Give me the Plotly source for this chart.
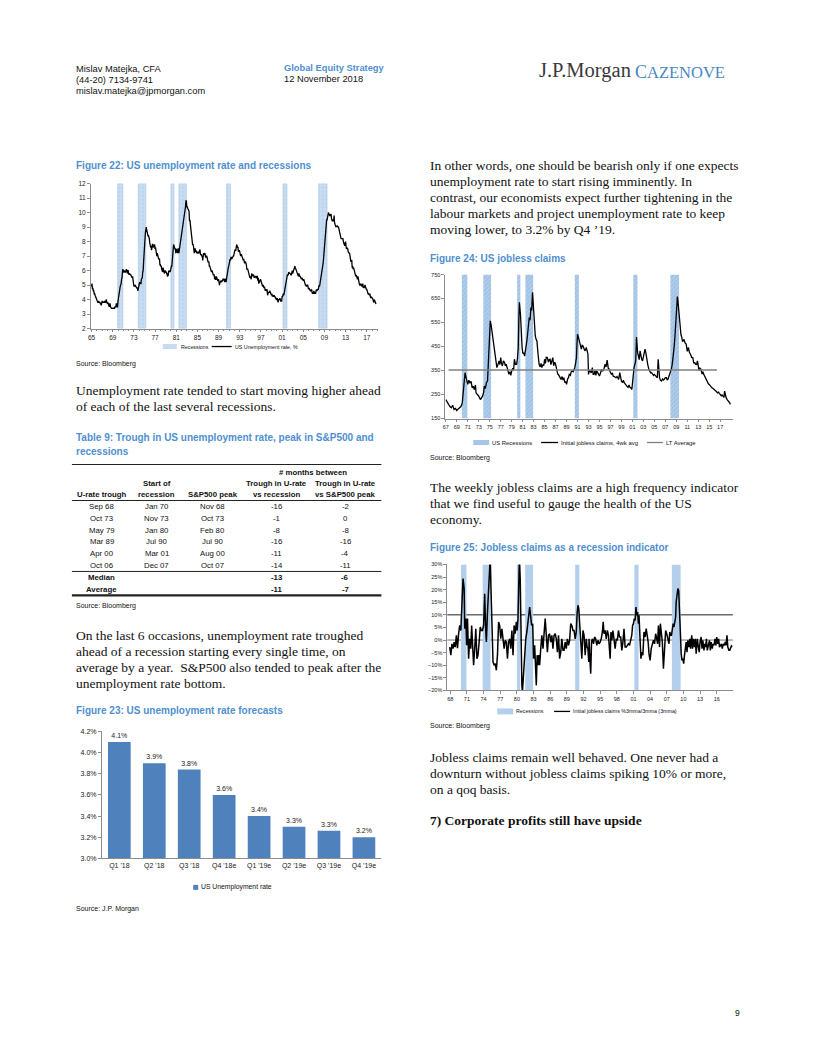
import numpy as np
import plotly.graph_objects as go

W, H = 816, 1056
OFF = 8  # page body margin of the browser
SANS = "Liberation Sans, Arial, sans-serif"
SERIF = "Liberation Serif, Times New Roman, serif"
TBLUE = "#4f8fcf"

# ---------------- Figure 22: US unemployment rate (monthly, from Jan 1965)
UNRATE_START = 1965
UNRATE = [
    4.9, 5.1, 4.7, 4.8, 4.6, 4.6, 4.4, 4.4, 4.3, 4.2, 4.1, 4.0,
    4.0, 3.8, 3.8, 3.8, 3.9, 3.8, 3.8, 3.8, 3.7, 3.7, 3.6, 3.8,
    3.9, 3.8, 3.8, 3.8, 3.8, 3.9, 3.8, 3.8, 3.8, 4.0, 3.9, 3.8,
    3.7, 3.8, 3.7, 3.5, 3.5, 3.7, 3.7, 3.5, 3.4, 3.4, 3.4, 3.4,
    3.4, 3.4, 3.4, 3.4, 3.4, 3.5, 3.5, 3.5, 3.7, 3.7, 3.5, 3.5,
    3.9, 4.2, 4.4, 4.6, 4.8, 4.9, 5.0, 5.1, 5.4, 5.5, 5.9, 6.1,
    5.9, 5.9, 6.0, 5.9, 5.9, 5.9, 6.0, 6.1, 6.0, 5.8, 6.0, 6.0,
    5.8, 5.7, 5.8, 5.7, 5.7, 5.7, 5.6, 5.6, 5.5, 5.6, 5.3, 5.2,
    4.9, 5.0, 4.9, 5.0, 4.9, 4.9, 4.8, 4.8, 4.8, 4.6, 4.8, 4.9,
    5.1, 5.2, 5.1, 5.1, 5.1, 5.4, 5.5, 5.5, 5.9, 6.0, 6.6, 7.2,
    8.1, 8.1, 8.6, 8.8, 9.0, 8.8, 8.6, 8.4, 8.4, 8.4, 8.3, 8.2,
    7.9, 7.7, 7.6, 7.7, 7.4, 7.6, 7.8, 7.8, 7.6, 7.7, 7.8, 7.8,
    7.5, 7.6, 7.4, 7.2, 7.0, 7.2, 6.9, 7.0, 6.8, 6.8, 6.8, 6.4,
    6.4, 6.3, 6.3, 6.1, 6.0, 5.9, 6.2, 5.9, 6.0, 5.8, 5.9, 6.0,
    5.9, 5.9, 5.8, 5.8, 5.6, 5.7, 5.7, 6.0, 5.9, 6.0, 5.9, 6.0,
    6.3, 6.3, 6.3, 6.9, 7.5, 7.6, 7.8, 7.7, 7.5, 7.5, 7.5, 7.2,
    7.5, 7.4, 7.4, 7.2, 7.5, 7.5, 7.2, 7.4, 7.6, 7.9, 8.3, 8.5,
    8.6, 8.9, 9.0, 9.3, 9.4, 9.6, 9.8, 9.8, 10.1, 10.4, 10.8, 10.8,
    10.4, 10.4, 10.3, 10.2, 10.1, 10.1, 9.4, 9.5, 9.2, 8.8, 8.5, 8.3,
    8.0, 7.8, 7.8, 7.7, 7.4, 7.2, 7.5, 7.5, 7.3, 7.4, 7.2, 7.3,
    7.3, 7.2, 7.2, 7.3, 7.2, 7.4, 7.4, 7.1, 7.1, 7.1, 7.0, 7.0,
    6.7, 7.2, 7.2, 7.1, 7.2, 7.2, 7.0, 6.9, 7.0, 7.0, 6.9, 6.6,
    6.6, 6.6, 6.6, 6.3, 6.3, 6.2, 6.1, 6.0, 5.9, 6.0, 5.8, 5.7,
    5.7, 5.7, 5.7, 5.4, 5.6, 5.4, 5.4, 5.6, 5.4, 5.4, 5.3, 5.3,
    5.4, 5.2, 5.0, 5.2, 5.2, 5.3, 5.2, 5.2, 5.3, 5.3, 5.4, 5.4,
    5.4, 5.3, 5.2, 5.4, 5.4, 5.2, 5.5, 5.7, 5.9, 5.9, 6.2, 6.3,
    6.4, 6.6, 6.8, 6.7, 6.9, 6.9, 6.8, 6.9, 6.9, 7.0, 7.0, 7.3,
    7.3, 7.4, 7.4, 7.4, 7.6, 7.8, 7.7, 7.6, 7.6, 7.3, 7.4, 7.4,
    7.3, 7.1, 7.0, 7.1, 7.1, 7.0, 6.9, 6.8, 6.7, 6.8, 6.6, 6.5,
    6.6, 6.6, 6.5, 6.4, 6.1, 6.1, 6.1, 6.0, 5.9, 5.8, 5.6, 5.5,
    5.6, 5.4, 5.4, 5.8, 5.6, 5.6, 5.7, 5.7, 5.6, 5.5, 5.6, 5.6,
    5.6, 5.5, 5.5, 5.6, 5.6, 5.3, 5.5, 5.1, 5.2, 5.2, 5.4, 5.4,
    5.3, 5.2, 5.2, 5.1, 4.9, 5.0, 4.9, 4.8, 4.9, 4.7, 4.6, 4.7,
    4.6, 4.6, 4.7, 4.3, 4.4, 4.5, 4.5, 4.5, 4.6, 4.5, 4.4, 4.4,
    4.3, 4.4, 4.2, 4.3, 4.2, 4.3, 4.3, 4.2, 4.2, 4.1, 4.1, 4.0,
    4.0, 4.1, 4.0, 3.8, 4.0, 4.0, 4.0, 4.1, 3.9, 3.9, 3.9, 3.9,
    4.2, 4.2, 4.3, 4.4, 4.3, 4.5, 4.6, 4.9, 5.0, 5.3, 5.5, 5.7,
    5.7, 5.7, 5.7, 5.9, 5.8, 5.8, 5.8, 5.7, 5.7, 5.7, 5.9, 6.0,
    5.8, 5.9, 5.9, 6.0, 6.1, 6.3, 6.2, 6.1, 6.1, 6.0, 5.8, 5.7,
    5.7, 5.6, 5.8, 5.6, 5.6, 5.6, 5.5, 5.4, 5.4, 5.5, 5.4, 5.4,
    5.3, 5.4, 5.2, 5.2, 5.1, 5.0, 5.0, 4.9, 5.0, 5.0, 5.0, 4.9,
    4.7, 4.8, 4.7, 4.7, 4.6, 4.6, 4.7, 4.7, 4.5, 4.4, 4.5, 4.4,
    4.6, 4.5, 4.4, 4.5, 4.4, 4.6, 4.7, 4.6, 4.7, 4.7, 4.7, 5.0,
    5.0, 4.9, 5.1, 5.0, 5.4, 5.6, 5.8, 6.1, 6.1, 6.5, 6.8, 7.3,
    7.8, 8.3, 8.7, 9.0, 9.4, 9.5, 9.5, 9.6, 9.8, 10.0, 9.9, 9.9,
    9.8, 9.8, 9.9, 9.9, 9.6, 9.4, 9.4, 9.5, 9.5, 9.4, 9.8, 9.3,
    9.1, 9.0, 9.0, 9.1, 9.0, 9.1, 9.0, 9.0, 9.0, 8.8, 8.6, 8.5,
    8.3, 8.3, 8.2, 8.2, 8.2, 8.2, 8.2, 8.0, 7.8, 7.8, 7.7, 7.9,
    8.0, 7.7, 7.5, 7.6, 7.5, 7.5, 7.3, 7.2, 7.2, 7.2, 6.9, 6.7,
    6.6, 6.7, 6.7, 6.2, 6.3, 6.1, 6.2, 6.1, 5.9, 5.7, 5.8, 5.6,
    5.7, 5.5, 5.4, 5.4, 5.6, 5.3, 5.2, 5.1, 5.0, 5.0, 5.1, 5.0,
    4.9, 4.9, 5.0, 5.1, 4.8, 4.9, 4.8, 4.9, 5.0, 4.9, 4.7, 4.7,
    4.7, 4.6, 4.4, 4.4, 4.4, 4.3, 4.3, 4.4, 4.2, 4.1, 4.2, 4.1,
    4.1, 4.1, 4.0, 4.0, 3.8, 4.0, 3.9, 3.9, 3.7, 3.7,
]
F22_XTICKS = [1965, 1969, 1973, 1977, 1981, 1985, 1989, 1993, 1997, 2001, 2005, 2009, 2013, 2017]
F22_XLABELS = ["65", "69", "73", "77", "81", "85", "89", "93", "97", "01", "05", "09", "13", "17"]

# NBER recessions (decimal years)
REC_START = [1969.92, 1973.83, 1980.0, 1981.5, 1990.5, 2001.17, 2007.92]
REC_END = [1970.92, 1975.25, 1980.58, 1982.92, 1991.25, 2001.92, 2009.5]

# ---------------- Figure 23: forecasts
F23_CATS = ["Q1 '18", "Q2 '18", "Q3 '18", "Q4 '18e", "Q1 '19e", "Q2 '19e", "Q3 '19e", "Q4 '19e"]
F23_VALS = [4.1, 3.9, 3.84, 3.6, 3.4, 3.3, 3.26, 3.2]

# ---------------- Figure 24: initial jobless claims, 4wk avg ('000)
CLAIMS_T = [
    1967.0, 1967.25, 1967.5, 1967.75, 1968.0, 1968.25, 1968.5, 1968.75, 1969.0, 1969.25, 1969.5, 1969.75,
    1970.0, 1970.15, 1970.3, 1970.5, 1970.65, 1970.8, 1971.0, 1971.2, 1971.4, 1971.6, 1971.8, 1972.0,
    1972.2, 1972.4, 1972.5, 1972.75, 1973.0, 1973.3, 1973.5, 1973.7, 1973.9, 1974.0, 1974.2, 1974.4,
    1974.6, 1974.8, 1974.95, 1975.1, 1975.25, 1975.5, 1975.7, 1975.85, 1976.0, 1976.15, 1976.3, 1976.5,
    1976.7, 1976.85, 1977.0, 1977.15, 1977.3, 1977.5, 1977.7, 1977.85, 1978.0, 1978.2, 1978.4, 1978.5,
    1978.7, 1978.85, 1979.0, 1979.2, 1979.35, 1979.5, 1979.7, 1979.9, 1980.05, 1980.2, 1980.3, 1980.4,
    1980.5, 1980.6, 1980.75, 1980.9, 1981.05, 1981.2, 1981.35, 1981.5, 1981.6, 1981.75, 1981.9, 1982.05,
    1982.2, 1982.35, 1982.5, 1982.65, 1982.8, 1982.9, 1983.0, 1983.15, 1983.3, 1983.45, 1983.6, 1983.8,
    1984.0, 1984.2, 1984.35, 1984.5, 1984.7, 1984.85, 1985.0, 1985.15, 1985.3, 1985.5, 1985.7, 1985.85,
    1986.0, 1986.15, 1986.3, 1986.5, 1986.65, 1986.85, 1987.0, 1987.2, 1987.4, 1987.5, 1987.7, 1987.85,
    1988.0, 1988.2, 1988.35, 1988.5, 1988.7, 1988.85, 1989.0, 1989.2, 1989.35, 1989.5, 1989.7, 1989.85,
    1990.0, 1990.2, 1990.4, 1990.5, 1990.65, 1990.8, 1990.9, 1991.0, 1991.15, 1991.3, 1991.5, 1991.7,
    1991.85, 1992.0, 1992.2, 1992.4, 1992.6, 1992.75, 1992.9, 1993.0, 1993.15, 1993.3, 1993.5, 1993.7,
    1993.85, 1994.0, 1994.2, 1994.35, 1994.5, 1994.7, 1994.85, 1995.0, 1995.2, 1995.35, 1995.5, 1995.7,
    1995.85, 1996.0, 1996.2, 1996.4, 1996.6, 1996.8, 1997.0, 1997.2, 1997.35, 1997.5, 1997.7, 1997.85,
    1998.0, 1998.2, 1998.4, 1998.5, 1998.7, 1998.85, 1999.0, 1999.2, 1999.35, 1999.5, 1999.7, 1999.85,
    2000.0, 2000.2, 2000.4, 2000.5, 2000.7, 2000.9, 2001.0, 2001.15, 2001.3, 2001.45, 2001.6, 2001.75,
    2001.85, 2001.95, 2002.1, 2002.25, 2002.4, 2002.55, 2002.7, 2002.85, 2003.0, 2003.15, 2003.3, 2003.45,
    2003.6, 2003.8, 2004.0, 2004.2, 2004.35, 2004.5, 2004.7, 2004.85, 2005.0, 2005.2, 2005.4, 2005.55,
    2005.7, 2005.8, 2005.95, 2006.1, 2006.3, 2006.5, 2006.65, 2006.8, 2007.0, 2007.2, 2007.35, 2007.5,
    2007.7, 2007.85, 2008.0, 2008.15, 2008.3, 2008.45, 2008.6, 2008.75, 2008.9, 2009.05, 2009.2, 2009.3,
    2009.4, 2009.55, 2009.7, 2009.85, 2010.0, 2010.15, 2010.3, 2010.4, 2010.6, 2010.8, 2011.0, 2011.2,
    2011.4, 2011.6, 2011.8, 2012.0, 2012.2, 2012.35, 2012.5, 2012.7, 2012.85, 2013.0, 2013.15, 2013.3,
    2013.5, 2013.7, 2013.85, 2014.0, 2014.2, 2014.35, 2014.5, 2014.7, 2014.85, 2015.0, 2015.2, 2015.35,
    2015.5, 2015.7, 2015.85, 2016.0, 2016.2, 2016.35, 2016.5, 2016.7, 2016.85, 2017.0, 2017.2, 2017.35,
    2017.5, 2017.7, 2017.8, 2017.95, 2018.1, 2018.3, 2018.45, 2018.6, 2018.75, 2018.85,
]
CLAIMS_V = [
    229, 215, 209, 200, 195, 205, 188, 192, 183, 190, 195, 200,
    215, 260, 306, 341, 325, 313, 292, 310, 299, 305, 278, 285,
    270, 290, 257, 250, 243, 229, 236, 243, 260, 285, 275, 300,
    306, 390, 480, 557, 540, 501, 470, 446, 404, 380, 362, 375,
    390, 375, 404, 380, 369, 390, 383, 370, 376, 360, 345, 334,
    345, 330, 348, 360, 350, 397, 375, 376, 400, 446, 560, 634,
    610, 585, 500, 446, 420, 425, 410, 430, 432, 470, 501, 540,
    571, 560, 613, 600, 676, 640, 585, 520, 494, 480, 473, 420,
    376, 365, 380, 362, 375, 370, 397, 380, 405, 404, 385, 395,
    397, 375, 390, 404, 370, 385, 376, 350, 335, 334, 325, 315,
    313, 325, 310, 320, 300, 305, 292, 315, 320, 334, 330, 345,
    348, 345, 355, 362, 380, 404, 460, 501, 490, 473, 450, 439,
    455, 453, 440, 432, 446, 430, 418, 334, 350, 348, 340, 362,
    335, 334, 350, 330, 348, 340, 335, 327, 340, 355, 348, 350,
    360, 376, 365, 393, 360, 355, 341, 335, 340, 327, 325, 320,
    320, 325, 315, 313, 341, 320, 306, 300, 310, 299, 295, 290,
    285, 280, 290, 281, 278, 271, 299, 330, 362, 375, 390, 490,
    440, 425, 411, 395, 432, 400, 397, 390, 404, 420, 439, 425,
    397, 375, 355, 345, 340, 341, 335, 330, 334, 330, 327, 320,
    397, 350, 320, 310, 306, 315, 310, 313, 320, 320, 310, 315,
    327, 335, 348, 360, 383, 410, 446, 490, 543, 600, 658, 640,
    613, 570, 536, 500, 488, 470, 475, 480, 465, 460, 430, 446,
    425, 418, 405, 404, 380, 385, 376, 375, 390, 369, 350, 360,
    355, 335, 345, 334, 325, 315, 306, 300, 295, 292, 285, 280,
    278, 275, 272, 271, 268, 262, 257, 260, 255, 250, 245, 248,
    243, 238, 264, 240, 236, 228, 225, 222, 215, 209,
]
LT_AVG = 352
LT_SPAN = [1967.5, 2016.4]
F24_XTICKS = list(range(1967, 2018, 2))
F24_XLABELS = ["67", "69", "71", "73", "75", "77", "79", "81", "83", "85", "87", "89", "91",
               "93", "95", "97", "99", "01", "03", "05", "07", "09", "11", "13", "15", "17"]

# ---------------- Figure 25: claims %3mma/3mma (3mma), %
CHG_T = [
    1967.9, 1968.1, 1968.3, 1968.5, 1968.7, 1968.9, 1969.1, 1969.3, 1969.5, 1969.7, 1969.9, 1970.1,
    1970.3, 1970.5, 1970.6, 1970.8, 1970.95, 1971.1, 1971.3, 1971.5, 1971.7, 1971.85, 1972.0, 1972.2,
    1972.4, 1972.6, 1972.8, 1973.0, 1973.2, 1973.4, 1973.6, 1973.8, 1974.0, 1974.2, 1974.35, 1974.5,
    1974.7, 1974.9, 1975.05, 1975.2, 1975.35, 1975.5, 1975.7, 1975.9, 1976.1, 1976.3, 1976.5, 1976.7,
    1976.9, 1977.1, 1977.3, 1977.5, 1977.7, 1977.9, 1978.1, 1978.3, 1978.5, 1978.7, 1978.9, 1979.1,
    1979.3, 1979.5, 1979.7, 1979.9, 1980.05, 1980.2, 1980.35, 1980.45, 1980.6, 1980.75, 1980.9, 1981.0,
    1981.2, 1981.4, 1981.6, 1981.8, 1982.0, 1982.15, 1982.3, 1982.5, 1982.65, 1982.85, 1983.0, 1983.2,
    1983.35, 1983.5, 1983.65, 1983.8, 1983.95, 1984.1, 1984.3, 1984.5, 1984.7, 1984.9, 1985.1, 1985.3,
    1985.5, 1985.7, 1985.9, 1986.1, 1986.3, 1986.5, 1986.7, 1986.9, 1987.1, 1987.3, 1987.5, 1987.7,
    1987.9, 1988.1, 1988.3, 1988.5, 1988.7, 1988.9, 1989.1, 1989.3, 1989.5, 1989.7, 1989.9, 1990.1,
    1990.3, 1990.5, 1990.7, 1990.85, 1991.0, 1991.15, 1991.3, 1991.5, 1991.7, 1991.9, 1992.1, 1992.3,
    1992.5, 1992.65, 1992.8, 1992.95, 1993.0, 1993.15, 1993.3, 1993.45, 1993.6, 1993.8, 1994.0, 1994.2,
    1994.4, 1994.6, 1994.8, 1995.0, 1995.2, 1995.4, 1995.55, 1995.7, 1995.9, 1996.1, 1996.3, 1996.5,
    1996.65, 1996.8, 1996.95, 1997.1, 1997.3, 1997.5, 1997.7, 1997.9, 1998.1, 1998.3, 1998.5, 1998.7,
    1998.9, 1999.1, 1999.3, 1999.5, 1999.7, 1999.9, 2000.1, 2000.3, 2000.5, 2000.7, 2000.85, 2001.0,
    2001.15, 2001.3, 2001.45, 2001.6, 2001.75, 2001.9, 2002.0, 2002.2, 2002.35, 2002.5, 2002.7, 2002.9,
    2003.1, 2003.3, 2003.5, 2003.65, 2003.8, 2004.0, 2004.2, 2004.4, 2004.6, 2004.8, 2005.0, 2005.2,
    2005.35, 2005.5, 2005.7, 2005.85, 2006.0, 2006.2, 2006.4, 2006.6, 2006.8, 2007.0, 2007.2, 2007.4,
    2007.55, 2007.7, 2007.85, 2008.0, 2008.15, 2008.3, 2008.45, 2008.6, 2008.7, 2008.85, 2009.0, 2009.15,
    2009.3, 2009.45, 2009.6, 2009.75, 2009.9, 2010.05, 2010.2, 2010.35, 2010.5, 2010.65, 2010.8, 2011.0,
    2011.15, 2011.3, 2011.5, 2011.65, 2011.8, 2012.0, 2012.15, 2012.3, 2012.5, 2012.7, 2012.85, 2013.0,
    2013.2, 2013.35, 2013.5, 2013.7, 2013.85, 2014.0, 2014.15, 2014.3, 2014.5, 2014.7, 2014.85, 2015.0,
    2015.2, 2015.35, 2015.5, 2015.7, 2015.85, 2016.0, 2016.2, 2016.35, 2016.5, 2016.7, 2016.85, 2017.0,
    2017.2, 2017.4, 2017.55, 2017.7, 2017.85, 2018.0, 2018.2, 2018.35, 2018.5, 2018.65, 2018.8,
]
CHG_V = [
    -2.8, -6.0, -1.5, -3.4, -0.8, -2.8, 1.9, -3.2, 2.5, 5.8, 3.8, 15.0,
    24.4, 20.4, 4.5, 8.5, -2.1, 8.5, -7.4, 0.5, -3.4, 5.8, -2.1, -10.0,
    -3.4, 4.5, -7.4, -6.0, -0.8, 5.2, 3.8, 3.8, 5.8, 18.4, 5.8, -0.8,
    11.0, 19.0, 29.7, 33.0, 19.0, 1.9, -8.7, -10.0, -9.4, -12.0, -6.0, 7.2,
    5.8, 0.5, 4.5, 0.5, -3.4, -0.1, -0.8, -7.4, -0.8, 0.5, -3.4, 3.8,
    -6.0, 5.8, 2.5, 7.2, 3.8, 8.5, 21.7, 33.0, 24.4, -2.1, -18.0, -20.5,
    -12.7, -3.4, 0.5, 3.2, 7.2, 9.1, 13.1, 9.1, 5.8, 6.5, -7.4, -2.1,
    -10.0, -18.0, -6.0, -10.0, -6.0, -10.0, -3.4, 1.9, -3.4, 3.2, 8.5, 1.9,
    -4.8, 1.9, 2.5, -0.8, 1.9, -3.4, 1.9, 2.5, 0.5, -4.8, 1.9, -7.4,
    -4.8, 0.5, -4.1, -4.1, -0.8, -3.4, 0.5, -2.1, -0.1, 6.5, 5.8, 3.8,
    3.8, 0.5, 3.2, 10.5, 13.8, 12.5, 5.8, -0.8, -7.4, 3.8, 1.9, -6.0,
    0.5, -2.8, -3.4, -8.7, 0.5, -7.4, -13.4, -0.8, 0.5, -1.5, 1.2, 0.5,
    -2.1, -0.1, -1.5, -0.8, 0.5, 3.2, 7.2, 2.5, 3.8, 0.5, 3.8, 1.9,
    -2.1, -7.4, 3.2, -0.1, 3.8, -0.1, -3.4, 0.5, -0.1, 3.8, 1.2, 1.2,
    -4.1, -0.8, 4.5, -2.8, -2.8, -2.1, -1.5, -2.1, 0.5, 1.9, 5.8, 6.5,
    8.5, 7.8, 13.1, 9.8, 11.1, 6.5, 9.8, -2.8, -7.4, -4.8, -6.0, 3.2,
    1.2, 4.5, 1.9, -0.8, -5.4, -8.1, -3.4, -2.1, -0.1, -1.5, 2.5, 0.5,
    -1.5, 5.8, -2.8, 6.5, 1.9, -0.8, -11.4, -0.8, 3.8, 2.5, 0.5, -1.5,
    3.2, 1.9, 1.9, 5.2, 6.5, 5.2, 7.2, 9.1, 15.1, 19.7, 20.4, 19.7,
    13.8, 3.2, -5.4, -8.1, -7.4, -9.4, -6.0, -2.8, -0.8, -4.8, -0.1, -2.8,
    0.5, -3.4, 1.9, -3.4, 0.5, -2.8, 0.5, -5.4, 0.5, -2.8, -4.8, -0.8,
    1.2, -3.4, -0.1, -4.1, -1.5, -2.8, 0.5, -4.1, -2.1, -0.1, -4.1, -0.8,
    -3.4, -1.5, -2.1, 0.5, -2.1, 1.2, -1.5, 0.5, -2.8, -2.1, -1.5, -3.4,
    -1.5, -2.1, -0.8, -2.1, 1.9, -2.8, -4.1, -4.1, -3.4, -2.4, -2.8,
]
F25_THRESH = [10, 0]
F25_XTICKS = list(range(1968, 2017, 3))
F25_XLABELS = ["68", "71", "74", "77", "80", "83", "86", "89", "92", "95", "98", "01", "04", "07", "10", "13", "16"]

# ---------------- Table 9
T9_HEAD = [["", "", "U-rate trough"], ["", "Start of", "recession"], ["", "", "S&P500 peak"],
           ["", "Trough in U-rate", "vs recession"], ["", "Trough in U-rate", "vs S&P500 peak"]]
T9_COL1 = ["Sep 68", "Oct 73", "May 79", "Mar 89", "Apr 00", "Oct 06"]
T9_COL2 = ["Jan 70", "Nov 73", "Jan 80", "Jul 90", "Mar 01", "Dec 07"]
T9_COL3 = ["Nov 68", "Oct 73", "Feb 80", "Jul 90", "Aug 00", "Oct 07"]
T9_COL4 = [-16, -1, -8, -16, -11, -14]
T9_COL5 = [-2, 0, -8, -16, -4, -11]
T9_SUMMARY = [("Median", -13, -6), ("Average", -11, -7)]

# screen calibration (render = a + b * spec)
AX, BX = 4.0, 0.998
AY, BY = 3.4, 0.9937


def px(x):
    return ((x - AX) / BX - OFF) / W


def py(y):
    return 1 - (((y - AY) / BY) - OFF) / H


fig = go.Figure()

# ---- Fig 22 traces
F22_Y = [2, 12]
rec_w = [e - s for s, e in zip(REC_START, REC_END)]
C22 = "#c6daf0"
fig.add_trace(go.Bar(
    x=REC_START, y=[F22_Y[1] - F22_Y[0]] * len(REC_START), base=F22_Y[0], width=rec_w, offset=0,
    marker=dict(color=C22, line=dict(width=0.6, color="#a9c6e8"),
                pattern=dict(shape="+", fgcolor="#ffffff", bgcolor="#bcd4ee", size=4, solidity=0.25)),
    name="Recessions", xaxis="x", yaxis="y", hoverinfo="skip"))
ux = UNRATE_START + np.arange(len(UNRATE)) / 12.0
fig.add_trace(go.Scatter(x=ux, y=UNRATE, mode="lines", line=dict(color="black", width=1.3),
                         name="US Unemployment rate, %", xaxis="x", yaxis="y"))

# ---- Fig 23 traces
C23 = "#4f81bd"
fig.add_trace(go.Bar(x=F23_CATS, y=F23_VALS, marker=dict(color=C23, line=dict(width=0)),
                     text=F23_VALS, texttemplate="%{y:.1f}%", textposition="outside",
                     textfont=dict(size=7, family=SANS, color="#222"), cliponaxis=False,
                     name="US Unemployment rate", xaxis="x2", yaxis="y2"))

# ---- Fig 24 traces
F24_Y = [150, 750]
C24 = "#a6c6e7"
fig.add_trace(go.Bar(
    x=REC_START, y=[F24_Y[1] - F24_Y[0]] * len(REC_START), base=F24_Y[0], width=rec_w, offset=0,
    marker=dict(color=C24, line=dict(width=0),
                pattern=dict(shape="/", fgcolor="#86b0dc", bgcolor="#b0cdeb", size=3, solidity=0.4)),
    name="US Recessions", xaxis="x3", yaxis="y3", hoverinfo="skip"))
fig.add_trace(go.Scatter(x=CLAIMS_T, y=CLAIMS_V, mode="lines", line=dict(color="black", width=1.3),
                         name="Initial jobless claims, 4wk avg", xaxis="x3", yaxis="y3"))
fig.add_trace(go.Scatter(x=LT_SPAN, y=[LT_AVG, LT_AVG], mode="lines", line=dict(color="#7f7f7f", width=1.6),
                         name="LT Average", xaxis="x3", yaxis="y3"))

# ---- Fig 25 traces
F25_Y = [-20, 30]
C25 = "#b3cfec"
fig.add_trace(go.Bar(
    x=REC_START, y=[F25_Y[1] - F25_Y[0]] * len(REC_START), base=F25_Y[0], width=rec_w, offset=0,
    marker=dict(color=C25, line=dict(width=0)),
    name="Recessions", xaxis="x4", yaxis="y4", hoverinfo="skip"))
fig.add_trace(go.Scatter(x=CHG_T, y=CHG_V, mode="lines", line=dict(color="black", width=1.5),
                         name="Initial jobless claims %3mma/3mma (3mma)", xaxis="x4", yaxis="y4"))
for i, v in enumerate(F25_THRESH):
    fig.add_shape(type="line", xref="x4 domain", x0=0, x1=1, yref="y4", y0=v, y1=v, layer="below",
                  line=dict(color="#222" if i == 0 else "#555", width=1 if i == 0 else 0.8))

axfont = dict(family=SANS, size=6.5, color="#222")
small = dict(family=SANS, size=5.5, color="#222")
common_ax = dict(showgrid=False, zeroline=False, showline=True, linecolor="#8c8c8c", linewidth=0.8,
                 ticks="outside", tickcolor="#8c8c8c", ticklen=3, tickwidth=0.8, fixedrange=True)

layout = dict(
    width=W, height=H, margin=dict(l=0, r=0, t=0, b=0), paper_bgcolor="white", plot_bgcolor="white",
    showlegend=False, barmode="overlay", bargap=0.35,
    # Fig 22
    xaxis=dict(domain=[px(92), px(380)], range=[1964.87, 2019.2], anchor="y", tickvals=F22_XTICKS,
               ticktext=F22_XLABELS, tickfont=axfont,
               minor=dict(dtick=1, ticks="outside", ticklen=2, tickcolor="#8c8c8c"), **common_ax),
    yaxis=dict(domain=[py(328), py(183)], range=F22_Y, anchor="x", dtick=1, tickfont=axfont, **common_ax),
    # Fig 23
    xaxis2=dict(domain=[px(103), px(383)], anchor="y2", tickfont=dict(family=SANS, size=7, color="#222"),
                **{**common_ax, "ticks": ""}),
    yaxis2=dict(domain=[py(858), py(731)], range=[3.0, 4.2], dtick=0.2, tickformat=".1f", ticksuffix="%",
                anchor="x2", tickfont=dict(family=SANS, size=7, color="#222"), **common_ax),
    # Fig 24
    xaxis3=dict(domain=[px(447), px(735)], range=[1966.9, 2019.3], anchor="y3", tickvals=F24_XTICKS,
                ticktext=F24_XLABELS, tickfont=small, **common_ax),
    yaxis3=dict(domain=[py(418), py(274)], range=F24_Y, tick0=150, dtick=100, anchor="x3",
                tickfont=small, **common_ax),
    # Fig 25
    xaxis4=dict(domain=[px(449), px(735)], range=[1967.46, 2018.9], anchor="y4", tickvals=F25_XTICKS,
                ticktext=F25_XLABELS, tickfont=small, **common_ax),
    yaxis4=dict(domain=[py(690), py(564)], range=F25_Y, dtick=5, ticksuffix="%", anchor="x4",
                tickfont=small, **common_ax),
)
fig.update_layout(**layout)

ann = []


def txt(x, y, s, size=9, family=SANS, color="#111", bold=False, xanchor="left"):
    ann.append(dict(x=px(x), y=py(y), xref="paper", yref="paper", text=f"<b>{s}</b>" if bold else s,
                    showarrow=False, xanchor=xanchor, yanchor="middle", borderpad=0,
                    font=dict(size=size, family=family, color=color)))


def rect(x0, x1, y0, y1, color):
    fig.add_shape(type="rect", xref="paper", yref="paper", x0=px(x0), x1=px(x1), y0=py(y1), y1=py(y0),
                  fillcolor=color, line=dict(width=0))


def hline(x0, x1, y, color, width):
    fig.add_shape(type="line", xref="paper", yref="paper", x0=px(x0), x1=px(x1), y0=py(y), y1=py(y),
                  line=dict(color=color, width=width))


# Header
HS = 9.3
txt(76, 68, "Mislav Matejka, CFA", size=HS)
txt(76, 79, "(44-20) 7134-9741", size=HS)
txt(76, 90, "mislav.matejka@jpmorgan.com", size=HS)
txt(284, 67, "Global Equity Strategy", size=HS, color=TBLUE, bold=True)
txt(284, 78, "12 November 2018", size=HS)
txt(540, 70, "J.P.Morgan", size=20.5, family=SERIF, color="#3a3a3a")
txt(636, 71, "C<span style='font-size:16.5px'>AZENOVE</span>", size=18, family=SERIF, color="#4a86c5")

# Titles and sources
TITLE_SIZE = 10
SRC = 7
LX, RX = 76, 431
txt(LX, 165, "Figure 22: US unemployment rate and recessions", size=TITLE_SIZE, color=TBLUE, bold=True)
txt(LX, 363, "Source: Bloomberg", size=SRC)
txt(LX, 437, "Table 9: Trough in US unemployment rate, peak in S&P500 and", size=TITLE_SIZE, color=TBLUE, bold=True)
txt(LX, 451, "recessions", size=TITLE_SIZE, color=TBLUE, bold=True)
txt(LX, 606, "Source: Bloomberg", size=SRC)
txt(LX, 710, "Figure 23: US unemployment rate forecasts", size=TITLE_SIZE, color=TBLUE, bold=True)
txt(LX, 909, "Source: J.P. Morgan", size=SRC)
txt(RX, 258, "Figure 24: US jobless claims", size=TITLE_SIZE, color=TBLUE, bold=True)
txt(RX, 457, "Source: Bloomberg", size=SRC)
txt(RX, 547, "Figure 25: Jobless claims as a recession indicator", size=TITLE_SIZE, color=TBLUE, bold=True)
txt(RX, 726, "Source: Bloomberg", size=SRC)

# Legends (drawn by hand to match the compact report style)
rect(164, 178, 343.5, 348.5, C22)
txt(181, 346, "Recessions", size=5.3)
hline(213, 233, 346, "black", 1.3)
txt(235, 346, "US Unemployment rate, %", size=5.3)

rect(194.5, 199.5, 884.5, 889.5, C23)
txt(201, 887, "US Unemployment rate", size=6.8)

rect(475, 491, 439.5, 444.5, C24)
txt(493, 442, "US Recessions", size=5.9)
hline(543, 560, 442, "black", 1.3)
txt(562, 442, "Initial jobless claims, 4wk avg", size=5.9)
hline(649, 665, 442, "#7f7f7f", 1.3)
txt(667, 442, "LT Average", size=5.9)

rect(499, 515, 708, 714, C25)
txt(517, 711, "Recessions", size=5.3)
hline(556, 572, 711, "black", 1.3)
txt(574, 711, "Initial jobless claims %3mma/3mma (3mma)", size=5.3)

# Body text
BODY = 13.5
left_blocks = [
    (390, ["Unemployment rate tended to start moving higher ahead",
           "of each of the last several recessions."]),
    (635, ["On the last 6 occasions, unemployment rate troughed",
           "ahead of a recession starting every single time, on",
           "average by a year.  S&P500 also tended to peak after the",
           "unemployment rate bottom."]),
]
right_blocks = [
    (165, ["In other words, one should be bearish only if one expects",
           "unemployment rate to start rising imminently. In",
           "contrast, our economists expect further tightening in the",
           "labour markets and project unemployment rate to keep",
           "moving lower, to 3.2% by Q4 \u201919."]),
    (487, ["The weekly jobless claims are a high frequency indicator",
           "that we find useful to gauge the health of the US",
           "economy."]),
    (757, ["Jobless claims remain well behaved. One never had a",
           "downturn without jobless claims spiking 10% or more,",
           "on a qoq basis."]),
]
for y0, lines in left_blocks:
    for i, l in enumerate(lines):
        txt(LX, y0 + 16 * i, l, size=BODY, family=SERIF, color="#111")
for y0, lines in right_blocks:
    for i, l in enumerate(lines):
        txt(RX, y0 + 16 * i, l, size=BODY, family=SERIF, color="#111")
txt(RX, 820, "7) Corporate profits still have upside", size=BODY, family=SERIF, color="#111", bold=True)
txt(736, 1013, "9", size=8.5)

# Table 9
COLX = [103, 158, 214, 278, 347]
TS = 7.8
txt(314, 472, "# months between", size=TS, bold=True, xanchor="center")
for cx, head in zip(COLX, T9_HEAD):
    for j, h in enumerate(head):
        if h:
            txt(cx, 472 + 11 * j, h, size=TS, bold=True, xanchor="center")
rows = list(zip(T9_COL1, T9_COL2, T9_COL3, T9_COL4, T9_COL5))
for i, r in enumerate(rows):
    for cx, v in zip(COLX, r):
        txt(cx, 506 + 11.8 * i, str(v), size=TS, xanchor="center")
for k, (lab, a, b) in enumerate(T9_SUMMARY):
    yy = 577 + 12 * k
    txt(COLX[0], yy, lab, size=TS, bold=True, xanchor="center")
    txt(COLX[3], yy, str(a), size=TS, bold=True, xanchor="center")
    txt(COLX[4], yy, str(b), size=TS, bold=True, xanchor="center")

for yy, wdt in [(464, 1), (500, 1), (571, 1), (595, 2.2)]:
    hline(73, 383, yy, "#222", wdt)

fig.update_layout(annotations=ann)

fig.write_html("out.html")
